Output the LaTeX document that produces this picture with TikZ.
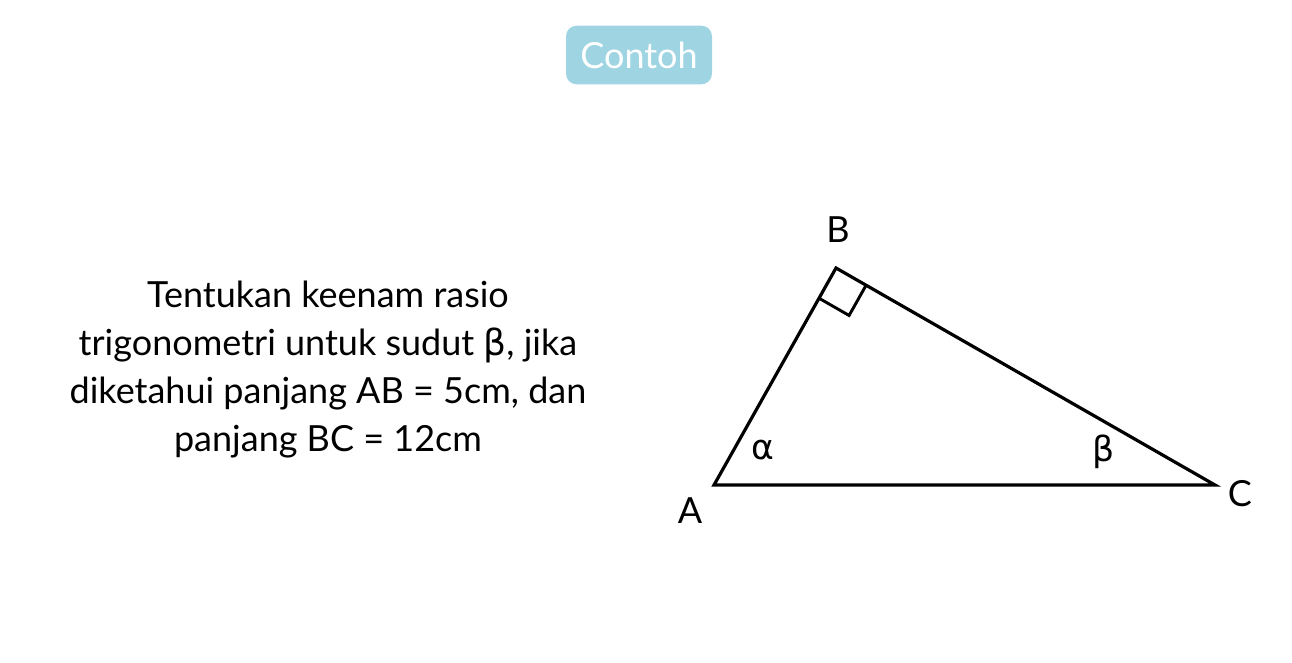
\documentclass[tikz,border=0pt]{standalone}
\usepackage{fontspec}
\setmainfont{Lato}
\newfontfamily\greekfont{DejaVu Sans}
\usetikzlibrary{calc}
\definecolor{badge}{HTML}{9FD5E3}
\begin{document}
\begin{tikzpicture}[x=0.75pt,y=-0.75pt,
  edge/.style={line width=2.4pt,line join=miter},
  lbl/.style={font=\fontsize{27}{30}\selectfont},
  glbl/.style={font=\greekfont\fontsize{26}{30}\selectfont},
  txt/.style={font=\fontsize{27}{36}\selectfont,align=center}]
\useasboundingbox (0,0) rectangle (1292,662);
\node[fill=badge,rounded corners=8pt,minimum width=109.5pt,minimum height=44pt,text=white,font=\fontsize{27}{30}\selectfont] (badge) at (639,55) {Contoh};
\node[txt] (q) at (328,370) {Tentukan keenam rasio\\trigonometri untuk sudut {\greekfont β}, jika\\diketahui panjang AB = 5cm, dan\\panjang BC = 12cm};
\coordinate (A) at (714,485);
\coordinate (B) at (836,268);
\coordinate (C) at (1215,485);
\draw[edge] (A) -- (B) -- (C) -- cycle;
\coordinate (P1) at ($(B)!26pt!(C)$);
\coordinate (P2) at ($(B)!26pt!(A)$);
\coordinate (P3) at ($(P1)+(P2)-(B)$);
\draw[line width=2.2pt] (P1) -- (P3) -- (P2);
\node[lbl] (lB) at (838,230) {B};
\node[lbl] (lA) at (690,511) {A};
\node[lbl] (lC) at (1240,494) {C};
\node[glbl] (la) at (763,450) {α};
\node[glbl] (lb) at (1104,452) {β};
\end{tikzpicture}
\end{document}
